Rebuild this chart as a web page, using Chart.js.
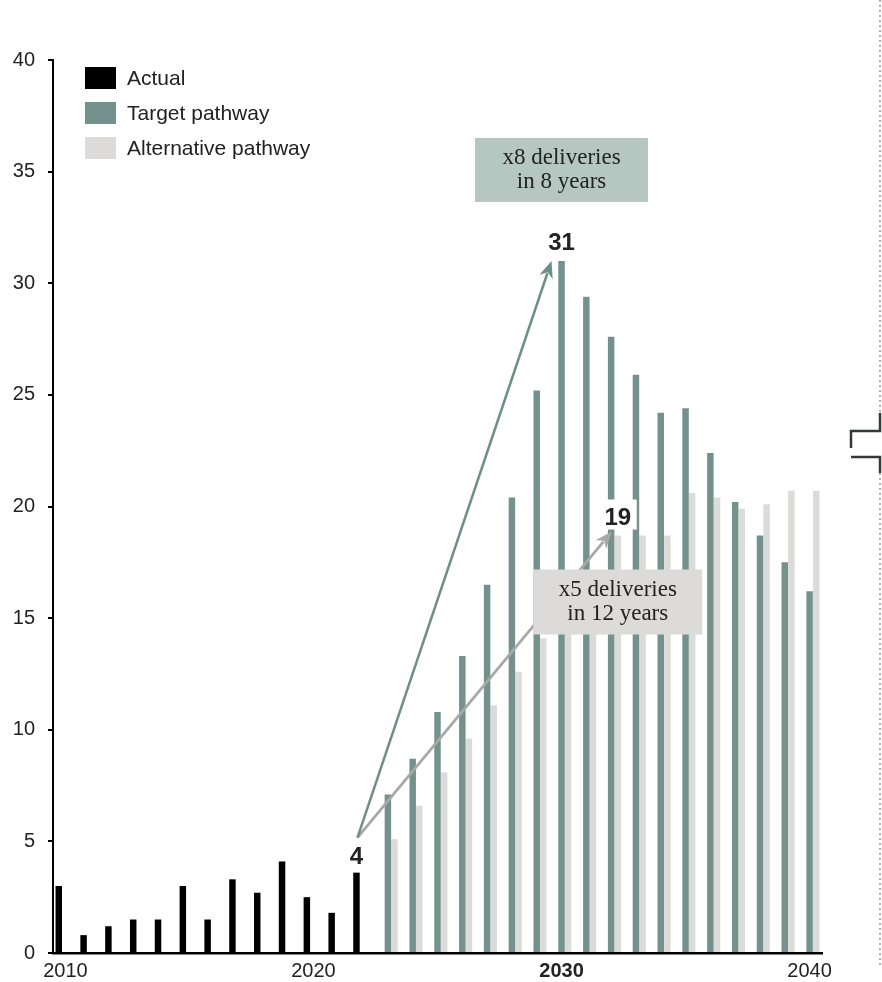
<!DOCTYPE html>
<html>
<head>
<meta charset="utf-8">
<script src="https://cdn.jsdelivr.net/npm/chart.js@4/dist/chart.umd.min.js"></script>
<style>
  html, body { margin: 0; padding: 0; background: #ffffff; }
  #wrap { width: 882px; height: 982px; }
</style>
</head>
<body>
<div id="wrap"><canvas id="chart" width="882" height="982"></canvas></div>
<script>
// Annual deliveries, 2010–2040
const years = [2010, 2011, 2012, 2013, 2014, 2015, 2016, 2017, 2018, 2019,
               2020, 2021, 2022, 2023, 2024, 2025, 2026, 2027, 2028, 2029,
               2030, 2031, 2032, 2033, 2034, 2035, 2036, 2037, 2038, 2039, 2040];

const actual = [3.0, 0.8, 1.2, 1.5, 1.5, 3.0, 1.5, 3.3, 2.7, 4.1,
                2.5, 1.8, 3.6, null, null, null, null, null, null, null,
                null, null, null, null, null, null, null, null, null, null, null];

const targetPathway = [null, null, null, null, null, null, null, null, null, null,
                       null, null, null, 7.1, 8.7, 10.8, 13.3, 16.5, 20.4, 25.2,
                       31.0, 29.4, 27.6, 25.9, 24.2, 24.4, 22.4, 20.2, 18.7, 17.5, 16.2];

const alternativePathway = [null, null, null, null, null, null, null, null, null, null,
                            null, null, null, 5.1, 6.6, 8.1, 9.6, 11.1, 12.6, 14.1,
                            15.6, 17.1, 18.7, 18.7, 18.7, 20.6, 20.4, 19.9, 20.1, 20.7, 20.7];

const seriesNames = ['Actual', 'Target pathway', 'Alternative pathway'];
const yTicks = [0, 5, 10, 15, 20, 25, 30, 35, 40];

// Years referred to by the callouts
const baseYear = 2022;
const targetPeakYear = 2030;
const altMarkYear = 2032;
const highlightYear = 2030;
const targetNote = ['x8 deliveries', 'in 8 years'];
const altNote = ['x5 deliveries', 'in 12 years'];

const COLORS = {
  actual: '#000000',
  target: '#73928e',
  alt: '#dcdbd9',
  targetArrow: '#6e8f89',
  altArrow: '#a8a8a8',
  targetBox: '#b6c6c0',
  altBox: '#dcdbd9',
  text: '#222222'
};
const SANS = '"Liberation Sans", Arial, Helvetica, sans-serif';
const SERIF = '"Liberation Serif", "Times New Roman", serif';

function drawArrow(ctx, x0, y0, x1, y1, color, width) {
  const a = Math.atan2(y1 - y0, x1 - x0);
  const len = 17, half = 7;
  const bx = x1 - len * Math.cos(a), by = y1 - len * Math.sin(a);
  ctx.save();
  ctx.strokeStyle = color;
  ctx.lineWidth = width;
  ctx.beginPath();
  ctx.moveTo(x0, y0);
  ctx.lineTo(x1 - (len - 4) * Math.cos(a), y1 - (len - 4) * Math.sin(a));
  ctx.stroke();
  ctx.fillStyle = color;
  ctx.beginPath();
  ctx.moveTo(x1, y1);
  ctx.lineTo(bx + half * Math.sin(a), by - half * Math.cos(a));
  ctx.lineTo(x1 - (len - 5) * Math.cos(a), y1 - (len - 5) * Math.sin(a));
  ctx.lineTo(bx - half * Math.sin(a), by + half * Math.cos(a));
  ctx.closePath();
  ctx.fill();
  ctx.restore();
}

function drawNoteBox(ctx, cx, top, w, h, fill, lines) {
  ctx.save();
  ctx.fillStyle = fill;
  ctx.fillRect(cx - w / 2, top, w, h);
  ctx.fillStyle = COLORS.text;
  ctx.font = '23px ' + SERIF;
  ctx.textAlign = 'center';
  ctx.textBaseline = 'middle';
  const cy = top + h / 2;
  ctx.fillText(lines[0], cx, cy - 12);
  ctx.fillText(lines[1], cx, cy + 12);
  ctx.restore();
}

const decorPlugin = {
  id: 'decor',
  afterDatasetsDraw(chart) {
    const ctx = chart.ctx;
    const iBase = years.indexOf(baseYear);
    const iPeak = years.indexOf(targetPeakYear);
    const iAlt = years.indexOf(altMarkYear);
    const baseBar = chart.getDatasetMeta(0).data[iBase];
    const peakBar = chart.getDatasetMeta(1).data[iPeak];
    const altBar = chart.getDatasetMeta(2).data[iAlt];

    // Growth arrows from the latest actual year
    const sx = baseBar.x + 1, sy = baseBar.y - 35;
    drawArrow(ctx, sx, sy, altBar.x - 6, altBar.y - 4, COLORS.altArrow, 2.8);
    drawArrow(ctx, sx, sy, peakBar.x - 10, peakBar.y, COLORS.targetArrow, 2.5);

    // Value labels
    ctx.save();
    ctx.font = 'bold 24px ' + SANS;
    ctx.textAlign = 'center';
    ctx.textBaseline = 'alphabetic';
    ctx.fillStyle = COLORS.text;
    ctx.fillText(String(Math.round(actual[iBase])), baseBar.x, baseBar.y - 9);
    ctx.fillText(String(Math.round(targetPathway[iPeak])), peakBar.x, peakBar.y - 11);
    ctx.fillStyle = '#ffffff';
    ctx.fillRect(altBar.x - 19, altBar.y - 36, 38, 30);
    ctx.fillStyle = COLORS.text;
    ctx.fillText(String(Math.round(alternativePathway[iAlt])), altBar.x, altBar.y - 11);
    ctx.restore();

    // Callout boxes
    drawNoteBox(ctx, peakBar.x, peakBar.y - 123, 173, 64, COLORS.targetBox, targetNote);
    drawNoteBox(ctx, altBar.x, altBar.y + 34, 169, 65, COLORS.altBox, altNote);

    // Legend
    ctx.save();
    ctx.font = '21px ' + SANS;
    ctx.textAlign = 'left';
    ctx.textBaseline = 'middle';
    chart.data.datasets.forEach((ds, i) => {
      const top = 67 + i * 35;
      ctx.fillStyle = ds.backgroundColor;
      ctx.fillRect(85, top, 31, 22);
      ctx.fillStyle = COLORS.text;
      ctx.fillText(ds.label, 127, top + 12);
    });
    ctx.restore();

    // Dotted divider with break mark on the right edge
    ctx.save();
    ctx.strokeStyle = '#999999';
    ctx.lineWidth = 1.5;
    ctx.setLineDash([2, 3]);
    ctx.beginPath();
    ctx.moveTo(880, 0); ctx.lineTo(880, 413);
    ctx.moveTo(880, 473); ctx.lineTo(880, 966);
    ctx.stroke();
    ctx.setLineDash([]);
    ctx.strokeStyle = '#333b3a';
    ctx.lineWidth = 2.5;
    ctx.beginPath();
    ctx.moveTo(880, 413); ctx.lineTo(880, 431); ctx.lineTo(851, 431); ctx.lineTo(851, 448);
    ctx.moveTo(851, 457); ctx.lineTo(880, 457); ctx.lineTo(880, 473);
    ctx.stroke();
    ctx.restore();
  }
};

new Chart(document.getElementById('chart'), {
  type: 'bar',
  data: {
    labels: years,
    datasets: [
      { label: seriesNames[0], data: actual, backgroundColor: COLORS.actual },
      { label: seriesNames[1], data: targetPathway, backgroundColor: COLORS.target },
      { label: seriesNames[2], data: alternativePathway, backgroundColor: COLORS.alt }
    ]
  },
  options: {
    responsive: false,
    animation: false,
    categoryPercentage: 0.8,
    barPercentage: 0.98,
    layout: { padding: { left: 0, right: 60, top: 60, bottom: 0 } },
    plugins: { legend: { display: false }, tooltip: { enabled: false } },
    scales: {
      x: {
        grid: { display: false, drawTicks: false },
        border: { color: '#000000', width: 2.5 },
        ticks: {
          autoSkip: false,
          maxRotation: 0,
          padding: 6,
          color: COLORS.text,
          font: (c) => ({ family: SANS, size: 20, weight: years[c.index] === highlightYear ? 'bold' : 'normal' }),
          callback: (v, i) => (years[i] % 10 === 0 ? String(years[i]) : '')
        },
        afterFit: (s) => { s.height = 29; }
      },
      y: {
        min: 0,
        max: 40,
        afterBuildTicks: (s) => { s.ticks = yTicks.map(v => ({ value: v })); },
        ticks: { padding: 13, color: COLORS.text, font: { family: SANS, size: 20 } },
        grid: { drawOnChartArea: false, drawTicks: true, tickLength: 5, color: '#000000', lineWidth: 2 },
        border: { color: '#000000', width: 2 },
        afterFit: (s) => { s.width = 53; }
      }
    }
  },
  plugins: [decorPlugin]
});
</script>
</body>
</html>
